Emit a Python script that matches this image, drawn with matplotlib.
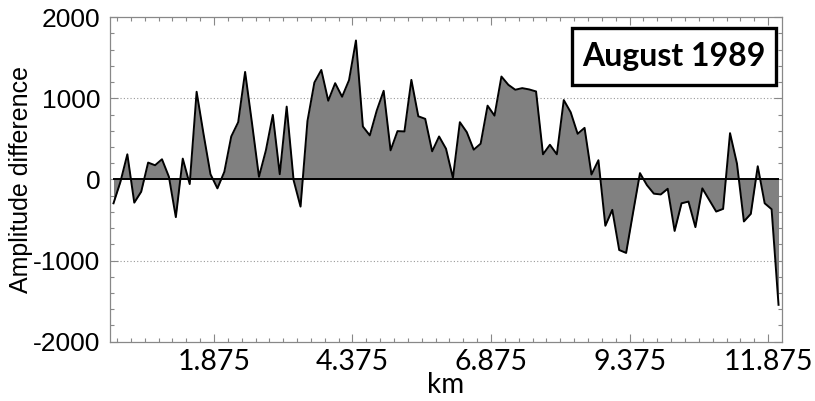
import matplotlib
matplotlib.use("Agg")
import matplotlib.pyplot as plt
from matplotlib.patches import Rectangle
import numpy as np

# amplitude difference sampled every 0.125 km along the profile
step_km = 0.125
amplitude = [
    -294, -30, 310, -286, -151, 208, 175, 249, 33, -465,
    257, -57, 1081, 560, 65, -110, 94, 530, 706, 1326,
    690, 33, 359, 796, 65, 898, -10, -335, 720, 1195,
    1350, 971, 1187, 1020, 1224, 1714, 653, 543, 849, 1093,
    359, 596, 592, 1228, 779, 747, 347, 530, 379, 20,
    706, 583, 367, 441, 910, 787, 1269, 1167, 1106, 1126,
    1110, 1085, 310, 428, 310, 979, 828, 563, 636, 61,
    237, -571, -375, -870, -906, -410, 78, -70, -175, -185,
    -115, -635, -294, -273, -588, -110, -253, -396, -363, 571,
    196, -518, -424, 163, -294, -367, -1546,
]
km = (np.arange(len(amplitude)) + 0.5) * step_km

x_major = [1.875, 4.375, 6.875, 9.375, 11.875]
x_labels = ["1.875", "4.375", "6.875", "9.375", "11.875"]
y_major = [-2000, -1000, 0, 1000, 2000]
y_labels = ["-2000", "-1000", "0", "1000", "2000"]
grid_levels = [-1000, 1000]
title = "August 1989"

fig = plt.figure(figsize=(8.15, 4.01), dpi=100)
ax = fig.add_axes([0.135, 0.148, 0.8245, 0.809])

amp = np.array(amplitude)
ax.fill_between(km, amp, 0, color="#808080", linewidth=0, zorder=2)
ax.plot(km, amp, color="black", linewidth=1.4, zorder=3)
ax.hlines(0, km[0], km[-1], color="black", linewidth=1.4, zorder=3)
for g in grid_levels:
    ax.axhline(g, color="#999999", linestyle=(0, (1, 2)), linewidth=0.8, zorder=1)

ax.set_xlim(0, len(amplitude) * step_km)
ax.set_ylim(-2000, 2000)

ax.set_xticks(x_major)
ax.set_xticklabels(x_labels, fontfamily="Lato", fontsize=20.5)
ax.set_xticks(np.arange(0.125, 12.1, 0.25), minor=True)
ax.set_yticks(y_major)
ax.set_yticklabels(y_labels, fontfamily="Liberation Sans", fontsize=19)
ax.set_yticks(np.arange(-2000, 2001, 200), minor=True)

ax.tick_params(which="both", direction="in", top=True, right=True,
               color="#888888", width=0.8)
ax.tick_params(which="major", length=6)
ax.tick_params(which="minor", length=3)
ax.tick_params(axis="x", which="major", pad=5)
ax.tick_params(axis="y", which="major", pad=7)
for s in ax.spines.values():
    s.set_color("#888888")
    s.set_linewidth(0.9)

ax.set_xlabel("km", fontfamily="Lato", fontsize=20, labelpad=-2)
ax.set_ylabel("Amplitude difference", fontfamily="Liberation Sans", fontsize=18, labelpad=0)

# label box in the upper right corner
ax.add_patch(Rectangle((0.6875, 0.79), 0.3035, 0.177, transform=ax.transAxes,
                       facecolor="white", edgecolor="black", linewidth=2.4, zorder=5))
ax.text(0.839, 0.878, title, transform=ax.transAxes, ha="center", va="center",
        fontfamily="Lato", fontweight="bold", fontsize=23, zorder=6)

fig.savefig("out.png", dpi=100)
